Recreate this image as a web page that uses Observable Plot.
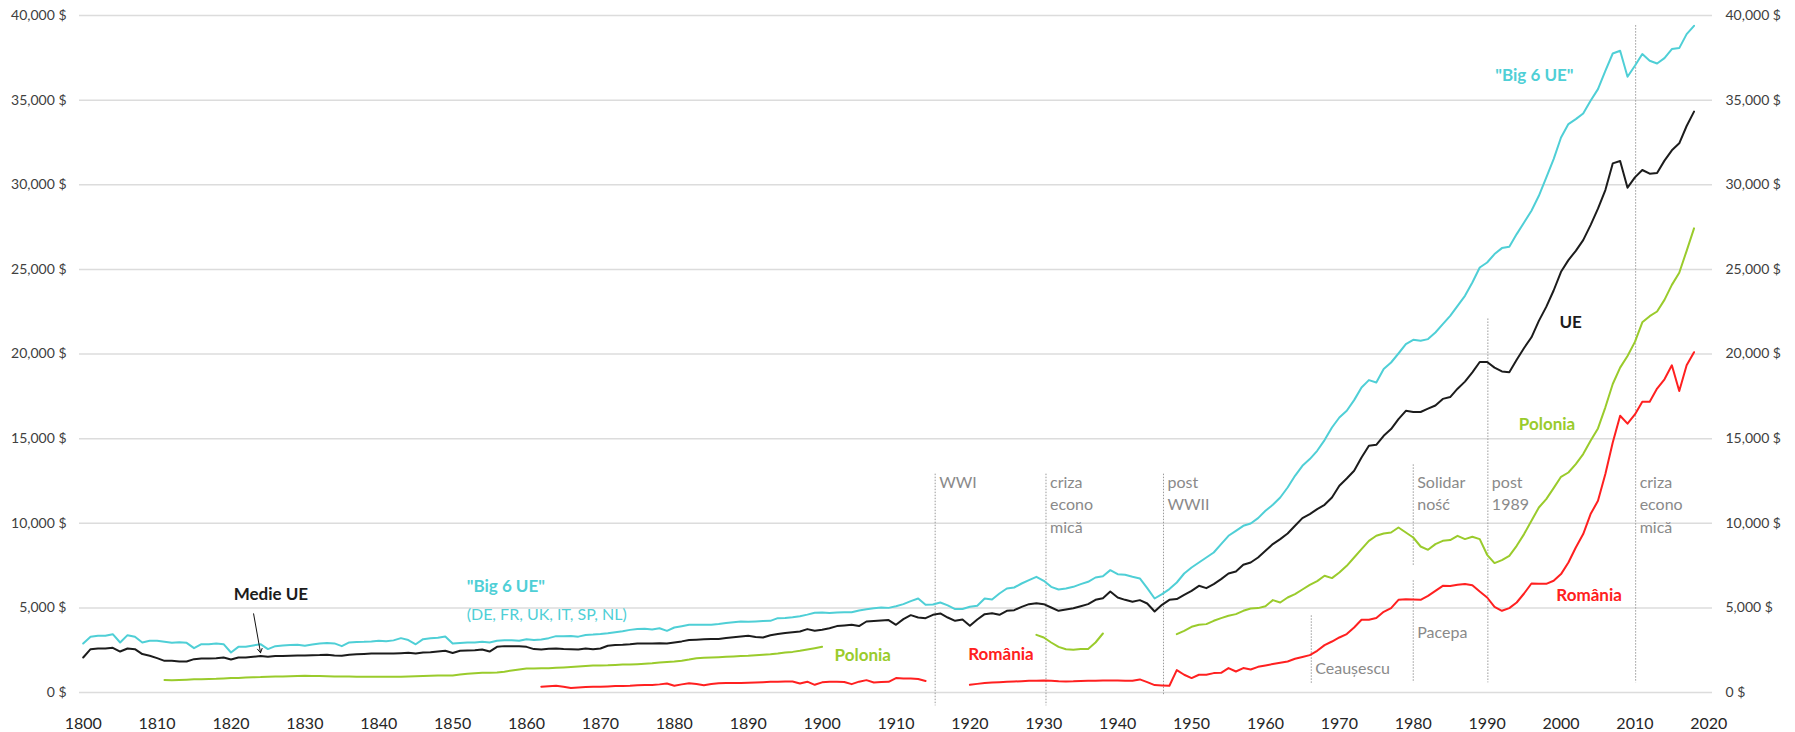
<!DOCTYPE html>
<html><head><meta charset="utf-8">
<script src="https://cdn.jsdelivr.net/npm/d3@7"></script>
<script src="https://cdn.jsdelivr.net/npm/@observablehq/plot@0.6"></script>
<style>body{margin:0;background:#fff;} #chart svg{display:block;}</style>
</head><body><div id="chart"></div>
<script>
// GDP per capita ($), yearly values; null = no data
const ueFrom = 1800;
const ue = [
  2070, 2560, 2600, 2600, 2640, 2420, 2600, 2560, 2270, 2170,
  2030, 1870, 1870, 1830, 1830, 1970, 2010, 2010, 2030, 2070,
  1950, 2070, 2070, 2110, 2150, 2110, 2150, 2160, 2170, 2180,
  2190, 2206, 2210, 2226, 2180, 2170, 2230, 2266, 2280, 2300,
  2305, 2300, 2305, 2320, 2344, 2300, 2363, 2380, 2420, 2462,
  2330, 2462, 2480, 2501, 2540, 2420, 2698, 2740, 2738, 2730,
  2698, 2564, 2540, 2580, 2603, 2564, 2560, 2540, 2600, 2560,
  2600, 2760, 2800, 2818, 2850, 2895, 2900, 2900, 2910, 2895,
  2954, 3020, 3096, 3120, 3140, 3155, 3160, 3220, 3270, 3310,
  3350, 3280, 3250, 3380, 3450, 3520, 3560, 3604, 3746, 3644,
  3706, 3800, 3923, 3960, 4000, 3923, 4195, 4230, 4250, 4277,
  4000, 4333, 4569, 4431, 4392, 4589, 4668, 4431, 4234, 4313,
  3939, 4313, 4628, 4687, 4589, 4825, 4865, 5062, 5220, 5280,
  5220, 5022, 4825, 4903, 4983, 5101, 5220, 5475, 5574, 5968,
  5613, 5475, 5357, 5457, 5258, 4786, 5180, 5477, 5518, 5772,
  6009, 6304, 6166, 6405, 6701, 7031, 7149, 7545, 7681, 7976,
  8372, 8768, 9064, 9394, 9849, 10304, 10541, 10836, 11090, 11521,
  12213, 12644, 13099, 13885, 14576, 14635, 15167, 15563, 16154, 16644,
  16573, 16573, 16768, 16957, 17347, 17454, 17950, 18369, 18919, 19527,
  19527, 19196, 18972, 18919, 19663, 20354, 20987, 21956, 22783, 23752,
  24857, 25548, 26097, 26730, 27616, 28585, 29684, 31261, 31400, 29826,
  30434, 30871, 30653, 30700, 31426, 32035, 32449, 33471, 34322
];
const big6From = 1800;
const big6 = [
  2895, 3290, 3349, 3349, 3447, 2954, 3388, 3290, 2954, 3053,
  3053, 2994, 2935, 2974, 2935, 2619, 2856, 2856, 2895, 2856,
  2363, 2698, 2698, 2777, 2856, 2564, 2737, 2777, 2800, 2816,
  2760, 2830, 2900, 2920, 2900, 2740, 2960, 2990, 3000, 3020,
  3053, 3030, 3080, 3211, 3100, 2850, 3150, 3200, 3230, 3309,
  2895, 2920, 2954, 2960, 2994, 2954, 3053, 3080, 3093, 3053,
  3152, 3100, 3132, 3211, 3329, 3329, 3340, 3300, 3400, 3420,
  3450, 3500, 3560, 3620, 3700, 3746, 3760, 3720, 3800, 3644,
  3840, 3920, 3998, 4000, 3998, 4010, 4050, 4100, 4150, 4195,
  4180, 4200, 4220, 4234, 4392, 4400, 4450, 4510, 4600, 4707,
  4720, 4700, 4730, 4740, 4747, 4850, 4923, 4980, 5022, 5000,
  5101, 5220, 5400, 5554, 5180, 5200, 5318, 5150, 4929, 4929,
  5062, 5121, 5554, 5500, 5850, 6145, 6204, 6440, 6641, 6835,
  6598, 6244, 6086, 6150, 6244, 6402, 6540, 6795, 6874, 7229,
  6993, 6954, 6835, 6737, 6166, 5554, 5814, 6110, 6499, 7031,
  7386, 7681, 7976, 8272, 8768, 9259, 9554, 9849, 9985, 10304,
  10736, 11090, 11521, 12112, 12804, 13394, 13790, 14281, 14913, 15657,
  16248, 16644, 17275, 18021, 18458, 18316, 19108, 19498, 20030, 20584,
  20839, 20780, 20880, 21270, 21766, 22257, 22848, 23439, 24225, 25111,
  25406, 25903, 26257, 26334, 27084, 27770, 28461, 29347, 30428, 31515,
  32792, 33584, 33879, 34210, 34960, 35651, 36733, 37755, 37914, 36378,
  37028, 37720, 37324, 37164, 37483, 38015, 38074, 38900, 39391
];
const poloniaFrom = 1811;
const polonia = [
  733, 720, 740, 760, 780, 790, 800, 810, 830,
  851, 860, 880, 900, 910, 930, 940, 950, 960, 975,
  987, 980, 970, 960, 950, 945, 940, 935, 930, 930,
  927, 927, 927, 927, 940, 960, 980, 995, 1000, 1005,
  1010, 1060, 1110, 1140, 1160, 1170, 1182, 1230, 1300, 1360,
  1418, 1420, 1430, 1440, 1460, 1477, 1500, 1530, 1560, 1590,
  1600, 1610, 1630, 1650, 1660, 1676, 1700, 1730, 1770, 1800,
  1832, 1880, 1950, 2030, 2050, 2068, 2090, 2110, 2130, 2150,
  2167, 2200, 2230, 2260, 2300, 2363, 2400, 2462, 2540, 2620,
  2698, null, null, null, null, null, null, null, null, null,
  null, null, null, null, null, null, null, null, null, null,
  null, null, null, null, null, null, null, null, null, 3407,
  3250, 2954, 2698, 2560, 2521, 2564, 2564, 2954, 3486, null,
  null, null, null, null, null, null, null, null, 3450, 3644,
  3880, 4000, 4040, 4236, 4396, 4532, 4632, 4827, 4963, 4987,
  5100, 5459, 5318, 5613, 5814, 6086, 6363, 6582, 6895, 6759,
  7090, 7486, 7976, 8473, 8963, 9259, 9394, 9453, 9749, 9453,
  9158, 8626, 8431, 8768, 8963, 9004, 9259, 9064, 9199, 9064,
  8136, 7645, 7823, 8077, 8668, 9359, 10145, 10931, 11427, 12077,
  12745, 12999, 13495, 14086, 14872, 15604, 16851, 18228, 19196, 19887,
  20715, 21873, 22233, 22511, 23197, 24083, 24798, 26097, 27421
];
const romaniaFrom = 1862;
const romania = [
  337, 370, 396, 337, 260, 300, 330, 340,
  337, 360, 380, 390, 400, 435, 440, 450, 480, 534,
  396, 480, 553, 500, 435, 500, 553, 560, 560, 565,
  573, 590, 610, 632, 640, 645, 651, 534, 640, 455,
  600, 632, 632, 620, 494, 640, 730, 593, 620, 632,
  850, 820, 830, 800, 680, null, null, null, null, null,
  453, 510, 561, 590, 610, 634, 650, 670, 690, 700,
  712, 700, 660, 653, 660, 680, 693, 700, 710, 712,
  712, 700, 693, 772, 614, 436, 420, 397, 1323, 1050,
  851, 1048, 1050, 1146, 1160, 1442, 1241, 1442, 1359, 1516,
  1600, 1678, 1757, 1832, 1991, 2100, 2210, 2464, 2800, 3013,
  3250, 3451, 3840, 4295, 4300, 4396, 4768, 4987, 5477, 5516,
  5500, 5477, 5713, 6009, 6304, 6290, 6363, 6405, 6343, 5968,
  5613, 5063, 4827, 4987, 5318, 5849, 6440, 6430, 6420, 6600,
  6996, 7681, 8567, 9359, 10541, 11327, 12904, 14771, 16349, 15883,
  16432, 17182, 17182, 17956, 18506, 19332, 17816, 19332, 20106
];

// axis ticks
const xTicks = [1800, 1810, 1820, 1830, 1840, 1850, 1860, 1870, 1880, 1890, 1900, 1910, 1920, 1930, 1940, 1950, 1960, 1970, 1980, 1990, 2000, 2010, 2020];
const yTicks = [0, 5000, 10000, 15000, 20000, 25000, 30000, 35000, 40000];

// historical event markers (year, value range of the dotted rule)
const eventYears = [1915.3, 1930.3, 1946.2, 1966.2, 1980.0, 1980.0, 1990.1, 2010.1];
const eventTop =    [12900, 12900, 12900, 4530, 13450, 6600, 22070, 39400];
const eventBottom = [-790, -790, -200, 510, 7490, 570, 570, 570];
// event captions (year of marker, value, text)
const captionYears = [1915.3, 1930.3, 1930.3, 1930.3, 1946.2, 1946.2, 1966.2, 1980.0, 1980.0, 1980.0, 1990.1, 1990.1, 2010.1, 2010.1, 2010.1];
const captionValues = [12390, 12390, 11090, 9730, 12390, 11090, 1400, 12390, 11090, 3530, 12390, 11090, 12390, 11090, 9730];
const captionTexts = ["WWI", "criza", "econo", "mică", "post", "WWII", "Ceaușescu", "Solidar", "ność", "Pacepa", "post", "1989", "criza", "econo", "mică"];

// series labels
const labelYears = [1825.4, 1905.5, 1924.2, 1996.4, 2001.3, 1998.1, 2003.8];
const labelValues = [5770, 2170, 2230, 36430, 21840, 15820, 5710];
const labelTexts = ["Medie UE", "Polonia", "România", "\"Big 6 UE\"", "UE", "Polonia", "România"];
const labelSeries = ["ue", "polonia", "romania", "big6", "ue", "polonia", "romania"];
const big6Note = ["\"Big 6 UE\"", "(DE, FR, UK, IT, SP, NL)"];
const big6NoteYear = 1851.9;
const big6NoteValues = [6245, 4590];

const colors = {ue: "#1c1c1c", big6: "#4fcfd6", polonia: "#9acb2c", romania: "#ff2020"};

const toRows = (from, vals) => vals.map((v, i) => ({year: from + i, value: v}));
const rowsUE = toRows(ueFrom, ue);
const rowsB6 = toRows(big6From, big6);
const rowsPL = toRows(poloniaFrom, polonia);
const rowsRO = toRows(romaniaFrom, romania);
const events = eventYears.map((y, i) => ({year: y, top: eventTop[i], bottom: eventBottom[i]}));
const captions = captionYears.map((y, i) => ({year: y, value: captionValues[i], text: captionTexts[i]}));
const labels = labelYears.map((y, i) => ({year: y, value: labelValues[i], text: labelTexts[i], color: colors[labelSeries[i]]}));
const notes = big6Note.map((t, i) => ({year: big6NoteYear, value: big6NoteValues[i], text: t, bold: i === 0}));

const yFmt = d => d3.format(",")(d) + " $";

const chart = Plot.plot({
  width: 1795, height: 732,
  marginLeft: 79, marginRight: 83, marginTop: 15, marginBottom: 40,
  style: {fontFamily: "Lato, 'Open Sans', sans-serif", background: "#fff", overflow: "visible"},
  x: {domain: [1799.5, 2020.5]},
  y: {domain: [0, 40000]},
  color: {type: "identity"},
  marks: [
    Plot.gridY(yTicks, {stroke: "#dcdcdc", strokeOpacity: 1, strokeWidth: 1.5}),
    Plot.axisY(yTicks, {anchor: "left", tickSize: 0, tickPadding: 13, tickFormat: yFmt, fontSize: 14, fill: "#404040", label: null}),
    Plot.axisY(yTicks, {anchor: "right", tickSize: 0, tickPadding: 13, tickFormat: yFmt, fontSize: 14, fill: "#404040", label: null}),
    Plot.axisX(xTicks, {anchor: "bottom", tickSize: 0, tickPadding: 25, tickFormat: d => String(d), fontSize: 16, fill: "#262626", label: null}),
    Plot.ruleX(events, {x: "year", y1: "top", y2: "bottom", stroke: "#9a9a9a", strokeWidth: 1, strokeDasharray: "1.5,1.5"}),
    Plot.text(captions, {x: "year", y: "value", text: "text", textAnchor: "start", dx: 4, fill: "#8a8a8a", fontSize: 16}),
    Plot.lineY(rowsB6, {x: "year", y: "value", stroke: colors.big6, strokeWidth: 2}),
    Plot.lineY(rowsUE, {x: "year", y: "value", stroke: colors.ue, strokeWidth: 2}),
    Plot.lineY(rowsPL, {x: "year", y: "value", stroke: colors.polonia, strokeWidth: 2}),
    Plot.lineY(rowsRO, {x: "year", y: "value", stroke: colors.romania, strokeWidth: 2}),
    Plot.text(labels, {x: "year", y: "value", text: "text", fill: "color", fontWeight: "bold", fontSize: 17}),
    Plot.text(notes.filter(d => d.bold), {x: "year", y: "value", text: "text", textAnchor: "start", fill: colors.big6, fontWeight: "bold", fontSize: 17}),
    Plot.text(notes.filter(d => !d.bold), {x: "year", y: "value", text: "text", textAnchor: "start", fill: colors.big6, fontSize: 16}),
    Plot.arrow([{x1: 1823.06, y1: 4650, x2: 1824.0, y2: 2346}], {x1: "x1", y1: "y1", x2: "x2", y2: "y2", stroke: "#111", strokeWidth: 1, headLength: 7})
  ]
});
document.getElementById("chart").append(chart);
</script>
</body></html>
